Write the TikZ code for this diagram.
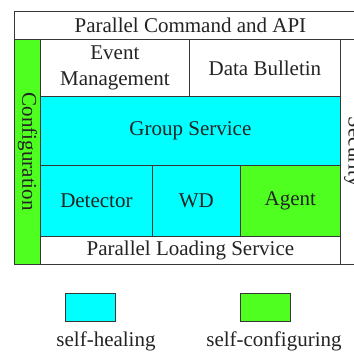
\documentclass[tikz,border=0pt]{standalone}
\usepackage{fontspec}
\setmainfont{Liberation Serif}
\usepackage{tikz}
\usetikzlibrary{positioning}
\definecolor{healcol}{RGB}{0,255,255}
\definecolor{confcol}{RGB}{78,255,32}
\definecolor{edgecol}{RGB}{55,55,55}
\definecolor{inkcol}{RGB}{35,35,35}
\tikzset{
    %Define style for the layer boxes
    plainrect/.style={
           rectangle,
           anchor=north west,
           draw=edgecol, line width=0.8pt,
           inner sep=0pt,
           align=center,
           text=inkcol,
           font=\fontsize{21}{26}\selectfont,
           fill=white
           },
    healrect/.style={
           plainrect,
           fill=healcol
           },
    confrect/.style={
           plainrect,
           fill=confcol
           },
    % Define style for rotated side labels
    sidelabel/.style={
           rotate=-90,
           inner sep=0pt,
           text=inkcol,
           font=\fontsize{21}{26}\selectfont
           },
    legendlabel/.style={
           anchor=base,
           inner sep=0pt,
           text=inkcol,
           font=\fontsize{21}{26}\selectfont
           }
}

\begin{document}
\begin{tikzpicture}[x=1pt,y=-1pt]
\useasboundingbox (0,0) rectangle (354,352);
 %layer boxes
\node[plainrect, minimum width=352pt, minimum height=28pt] (api) at (14,11) {Parallel Command and API};
\node[confrect, minimum width=26pt, minimum height=225pt] (config) at (14,39) {};
\node[plainrect, minimum width=26pt, minimum height=225pt] (security) at (340,39) {};
\node[plainrect, minimum width=149pt, minimum height=57pt] (event) at (40,39) {Event\\Management};
\node[plainrect, minimum width=151pt, minimum height=57pt] (bulletin) at (189,39) {Data Bulletin};
\node[healrect, minimum width=300pt, minimum height=69pt] (group) at (40,96) {Group Service};
\node[healrect, minimum width=112pt, minimum height=71pt] (detector) at (40,165) {Detector};
\node[healrect, minimum width=88pt, minimum height=71pt] (wd) at (152,165) {WD};
\node[confrect, minimum width=100pt, minimum height=71pt] (agent) at (240,165) {Agent};
\node[plainrect, minimum width=300pt, minimum height=28pt] (loading) at (40,236) {Parallel Loading Service};
 %side labels
\node[sidelabel] (configtext) at (config.center) {Configuration};
\node[sidelabel] (securitytext) at (security.center) {Security};
 %legend
\node[healrect, minimum width=50pt, minimum height=28pt] (healbox) at (65,293) {};
\node[confrect, minimum width=50pt, minimum height=28pt] (confbox) at (240,293) {};
\node[legendlabel] (heallabel) at (106,347) {self-healing};
\node[legendlabel] (conflabel) at (274,347) {self-configuring};
\end{tikzpicture}
\end{document}
